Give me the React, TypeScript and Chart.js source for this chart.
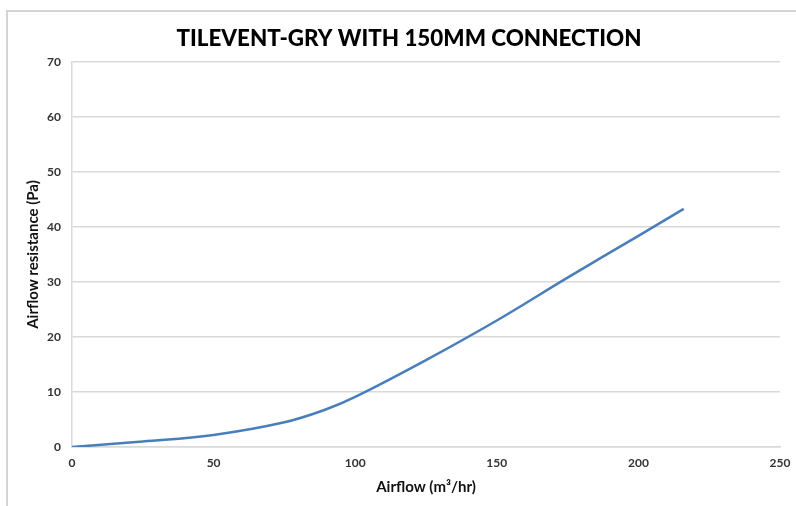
import { useEffect, useRef } from "react";
import { Chart, registerables } from "chart.js";

Chart.register(...registerables);

const chartTitle = "TILEVENT-GRY WITH 150MM CONNECTION";
const xAxisTitle = "Airflow (m³/hr)";
const yAxisTitle = "Airflow resistance (Pa)";

const airflow = [0, 25, 50, 75, 90, 100, 125, 150, 175, 200, 216];
const resistance = [0, 1.0, 2.2, 4.5, 6.9, 9.1, 15.8, 23.0, 30.8, 38.4, 43.3];

const xMin = 0;
const xMax = 250;
const xStep = 50;
const yMin = 0;
const yMax = 70;
const yStep = 10;

const FONT = "Lato, 'Open Sans', sans-serif";

const titlePlugin = {
  id: "customTitle",
  afterDraw(chart: any) {
    const ctx = chart.ctx;
    ctx.save();
    ctx.font = `900 22.4px ${FONT}`;
    ctx.fillStyle = "#000000";
    ctx.textAlign = "center";
    ctx.textBaseline = "middle";
    ctx.fillText(chartTitle, 409, 39);
    ctx.restore();
  },
};

export default function App() {
  const canvasRef = useRef<HTMLCanvasElement | null>(null);

  useEffect(() => {
    if (!canvasRef.current) return;
    const points = airflow.map((x, i) => ({ x, y: resistance[i] }));
    const chart = new Chart(canvasRef.current, {
      type: "line",
      data: {
        datasets: [
          {
            data: points,
            borderColor: "#4a7ebb",
            borderWidth: 2.5,
            pointRadius: 0,
            tension: 0.4,
            fill: false,
          },
        ],
      },
      plugins: [titlePlugin],
      options: {
        animation: false,
        responsive: false,
        devicePixelRatio: 1,
        layout: { padding: { left: 20, top: 62, right: 16, bottom: 6 } },
        plugins: {
          legend: { display: false },
          title: { display: false },
          tooltip: { enabled: false },
        },
        scales: {
          x: {
            type: "linear",
            min: xMin,
            max: xMax,
            afterFit: (scale: any) => {
              scale.height = 53;
              scale.paddingRight = 0;
              scale.paddingLeft = 0;
            },
            ticks: {
              stepSize: xStep,
              padding: 9,
              color: "#333333",
              font: { family: FONT, size: 12, weight: "bold" },
            },
            grid: { display: false, drawTicks: false },
            border: { display: true, color: "#d9d9d9", width: 1.5 },
            title: {
              display: true,
              text: xAxisTitle,
              color: "#111111",
              font: { family: FONT, size: 15, weight: "bold" },
              padding: { top: 4, bottom: 4 },
            },
          },
          y: {
            type: "linear",
            min: yMin,
            max: yMax,
            afterFit: (scale: any) => {
              scale.width = 52;
            },
            ticks: {
              stepSize: yStep,
              padding: 11,
              color: "#333333",
              font: { family: FONT, size: 12, weight: "bold" },
            },
            grid: { color: "#d9d9d9", lineWidth: 1.5, drawTicks: false },
            border: { display: true, color: "#d9d9d9", width: 1.5 },
            title: {
              display: true,
              text: yAxisTitle,
              color: "#111111",
              font: { family: FONT, size: 15, weight: "bold" },
              padding: { top: 4, bottom: 4 },
            },
          },
        },
      },
    });
    return () => chart.destroy();
  }, []);

  return (
    <div style={{ position: "fixed", left: 0, top: 0, width: 796, height: 506, background: "#ffffff" }}>
      <div
        style={{
          position: "absolute",
          left: 6,
          top: 10,
          width: 790,
          height: 496,
          borderTop: "2px solid #d4d4d4",
          borderLeft: "2px solid #d4d4d4",
          boxSizing: "border-box",
        }}
      />
      <canvas
        ref={canvasRef}
        width={796}
        height={506}
        style={{ position: "absolute", left: 0, top: 0, width: 796, height: 506 }}
      />
    </div>
  );
}
